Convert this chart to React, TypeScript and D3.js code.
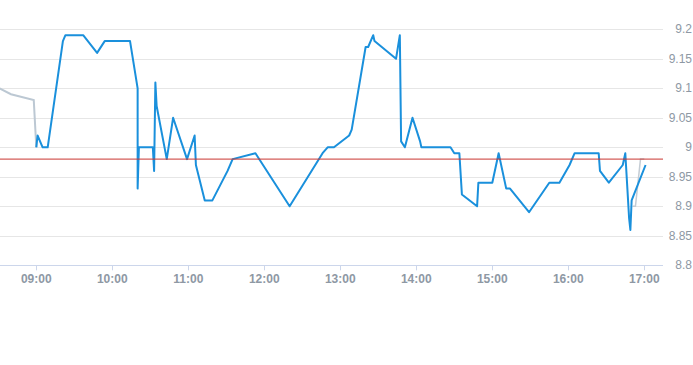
import React, { useEffect, useRef } from "react";
import * as d3 from "d3";

// intraday price, main session
const mainTimes = [
  "09:00", "09:01", "09:05", "09:09", "09:21", "09:23", "09:37", "09:48", "09:54", "10:14",
  "10:20", "10:20", "10:21", "10:32", "10:33", "10:34", "10:35", "10:43", "10:48", "10:59",
  "11:05", "11:06", "11:13", "11:19", "11:31", "11:35", "11:53", "12:20", "12:46", "12:50",
  "12:55", "13:07", "13:09", "13:20", "13:22", "13:26", "13:27", "13:44", "13:47", "13:48",
  "13:51", "13:57", "14:03", "14:04", "14:27", "14:30", "14:34", "14:36", "14:48", "14:49",
  "15:00", "15:05", "15:11", "15:14", "15:29", "15:45", "15:53", "16:01", "16:05", "16:24",
  "16:25", "16:32", "16:43", "16:45", "16:48", "16:49", "16:50", "17:01",
];
const mainValues = [
  9.0, 9.02, 9.0, 9.0, 9.18, 9.19, 9.19, 9.16, 9.18, 9.18,
  9.1, 8.93, 9.0, 9.0, 8.96, 9.11, 9.07, 8.98, 9.05, 8.98,
  9.02, 8.97, 8.91, 8.91, 8.96, 8.98, 8.99, 8.9, 8.99, 9.0,
  9.0, 9.02, 9.03, 9.17, 9.17, 9.19, 9.18, 9.15, 9.19, 9.01,
  9.0, 9.05, 9.01, 9.0, 9.0, 8.99, 8.99, 8.92, 8.9, 8.94,
  8.94, 8.99, 8.93, 8.93, 8.89, 8.94, 8.94, 8.97, 8.99, 8.99,
  8.96, 8.94, 8.97, 8.99, 8.88, 8.86, 8.91, 8.97,
];

// pre-open / closing auction
const preTimes = ["08:31", "08:40", "08:58", "09:00"];
const preValues = [9.1, 9.09, 9.08, 9.0];
const postTimes = ["16:51", "16:53", "16:57", "17:00"];
const postValues = [8.9, 8.9, 8.98, 8.98];

const refValue = 8.98;
const yTicks = [8.8, 8.85, 8.9, 8.95, 9, 9.05, 9.1, 9.15, 9.2];
const xTicks = ["09:00", "10:00", "11:00", "12:00", "13:00", "14:00", "15:00", "16:00", "17:00"];

const toDate = (s: string) => {
  const [h, m] = s.split(":").map(Number);
  return new Date(2024, 0, 2, h, m);
};

export default function App() {
  const ref = useRef<SVGSVGElement>(null);

  useEffect(() => {
    const svg = d3.select(ref.current);
    svg.selectAll("*").remove();

    const width = 693;
    const height = 365;
    const plotRight = 663;
    const top = 29.3;
    const bottom = 265.3;

    const x = d3.scaleTime()
      .domain([toDate("09:00"), toDate("17:00")])
      .range([36.3, 644.3]);
    const y = d3.scaleLinear().domain([8.8, 9.2]).range([bottom, top]);

    svg.attr("width", width).attr("height", height);

    svg.append("defs").append("clipPath").attr("id", "plot")
      .append("rect").attr("x", 0).attr("y", 0).attr("width", plotRight).attr("height", bottom + 5);

    // grid
    svg.append("g")
      .selectAll("line")
      .data(yTicks.slice(1))
      .join("line")
      .attr("x1", 0).attr("x2", plotRight)
      .attr("y1", d => Math.round(y(d)) + 0.5).attr("y2", d => Math.round(y(d)) + 0.5)
      .attr("stroke", "#e6e6e6");

    // x axis
    svg.append("line")
      .attr("x1", 0).attr("x2", plotRight)
      .attr("y1", Math.round(bottom) + 0.5).attr("y2", Math.round(bottom) + 0.5)
      .attr("stroke", "#ccd6eb");

    const xg = svg.append("g");
    xg.selectAll("line")
      .data(xTicks)
      .join("line")
      .attr("x1", d => Math.round(x(toDate(d))) + 0.5).attr("x2", d => Math.round(x(toDate(d))) + 0.5)
      .attr("y1", bottom).attr("y2", bottom + 5)
      .attr("stroke", "#ccd6eb");
    xg.selectAll("text")
      .data(xTicks)
      .join("text")
      .attr("x", d => x(toDate(d)))
      .attr("y", bottom + 18)
      .attr("text-anchor", "middle")
      .attr("font-family", "'Liberation Sans', Arial, sans-serif")
      .attr("font-size", 12)
      .attr("font-weight", "bold")
      .attr("fill", "#8e98a4")
      .text(d => d);

    // y labels
    svg.append("g")
      .selectAll("text")
      .data(yTicks)
      .join("text")
      .attr("x", 692)
      .attr("y", d => y(d) + 4)
      .attr("text-anchor", "end")
      .attr("font-family", "'Liberation Sans', Arial, sans-serif")
      .attr("font-size", 12)
      .attr("fill", "#8e98a4")
      .text(d => String(d));

    const line = d3.line<[string, number]>()
      .x(d => x(toDate(d[0])))
      .y(d => y(d[1]));

    const plot = svg.append("g").attr("clip-path", "url(#plot)");

    plot.append("path")
      .datum(preTimes.map((t, i) => [t, preValues[i]] as [string, number]))
      .attr("d", line)
      .attr("fill", "none")
      .attr("stroke", "#bcc8d3")
      .attr("stroke-width", 2);

    plot.append("path")
      .datum(postTimes.map((t, i) => [t, postValues[i]] as [string, number]))
      .attr("d", line)
      .attr("fill", "none")
      .attr("stroke", "#c4ccd4")
      .attr("stroke-width", 1.5);

    plot.append("path")
      .datum(mainTimes.map((t, i) => [t, mainValues[i]] as [string, number]))
      .attr("d", line)
      .attr("fill", "none")
      .attr("stroke", "#1a90dc")
      .attr("stroke-width", 2)
      .attr("stroke-linejoin", "round");

    // reference line
    svg.append("line")
      .attr("x1", 0).attr("x2", plotRight)
      .attr("y1", y(refValue)).attr("y2", y(refValue))
      .attr("stroke", "#c9342f")
      .attr("stroke-width", 1);
  }, []);

  return (
    <div style={{ position: "absolute", left: 0, top: 0 }}>
      <svg ref={ref}></svg>
    </div>
  );
}
